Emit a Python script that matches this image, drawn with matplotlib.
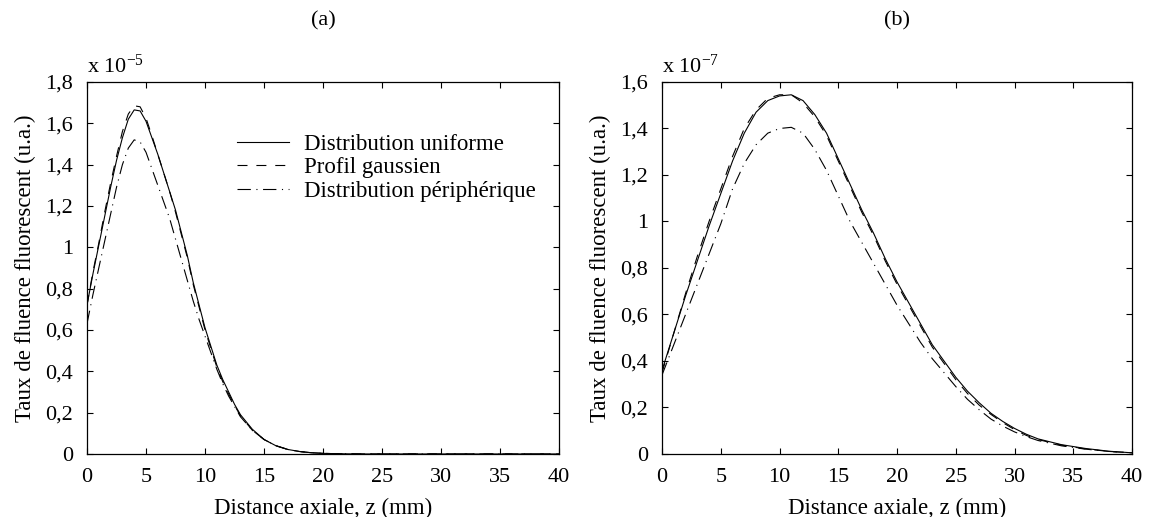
import matplotlib
matplotlib.use('Agg')
import matplotlib.pyplot as plt
from matplotlib.ticker import FuncFormatter, MultipleLocator

plt.rcParams['font.family'] = ['Liberation Serif', 'DejaVu Serif']
plt.rcParams['mathtext.default'] = 'regular'

labels = ['Distribution uniforme', 'Profil gaussien', 'Distribution périphérique']

# (a) values in units of 1e-5
z_a = [0, 0.5, 1, 1.5, 2, 2.5, 3, 3.5, 4, 4.5, 5, 5.5, 6, 6.5, 7, 7.5, 8, 8.5, 9, 9.5,
       10, 10.5, 11, 11.5, 12, 12.5, 13, 14, 15, 16, 17, 18, 19, 20, 21, 23, 40]
uniform_a = [0.72, 0.87, 1.01, 1.15, 1.29, 1.42, 1.53, 1.62, 1.665, 1.66, 1.61, 1.53, 1.45,
             1.36, 1.27, 1.18, 1.07, 0.96, 0.83, 0.72, 0.61, 0.52, 0.43, 0.36, 0.30, 0.24,
             0.19, 0.12, 0.07, 0.04, 0.022, 0.012, 0.006, 0.003, 0.0015, 0, 0]
gauss_a = [0.72, 0.88, 1.02, 1.17, 1.31, 1.44, 1.56, 1.645, 1.685, 1.68, 1.625, 1.54, 1.45,
           1.36, 1.27, 1.17, 1.06, 0.95, 0.82, 0.71, 0.60, 0.51, 0.42, 0.35, 0.29, 0.235,
           0.185, 0.115, 0.07, 0.04, 0.022, 0.012, 0.006, 0.003, 0.0015, 0, 0]
periph_a = [0.63, 0.77, 0.90, 1.03, 1.16, 1.29, 1.40, 1.48, 1.52, 1.51, 1.46, 1.38, 1.30,
            1.22, 1.14, 1.04, 0.94, 0.84, 0.74, 0.65, 0.57, 0.49, 0.41, 0.34, 0.28, 0.23,
            0.18, 0.115, 0.07, 0.04, 0.022, 0.012, 0.006, 0.003, 0.0015, 0, 0]

# (b) values in units of 1e-7
z_b = [0, 1, 2, 3, 4, 5, 6, 7, 8, 9, 10, 11, 12, 13, 14, 15, 16, 17, 18, 19, 20,
       21, 22, 23, 24, 25, 26, 27, 28, 29, 30, 31, 32, 34, 36, 38, 40]
uniform_b = [0.36, 0.52, 0.68, 0.83, 0.98, 1.12, 1.26, 1.38, 1.47, 1.52, 1.54, 1.545, 1.52,
             1.46, 1.38, 1.27, 1.16, 1.05, 0.95, 0.84, 0.74, 0.65, 0.56, 0.47, 0.40, 0.33,
             0.27, 0.22, 0.175, 0.14, 0.11, 0.085, 0.065, 0.04, 0.024, 0.012, 0.005]
gauss_b = [0.35, 0.52, 0.69, 0.85, 1.00, 1.14, 1.28, 1.40, 1.48, 1.53, 1.545, 1.545, 1.51,
           1.45, 1.37, 1.26, 1.15, 1.04, 0.94, 0.83, 0.73, 0.64, 0.55, 0.46, 0.39, 0.32,
           0.26, 0.21, 0.17, 0.135, 0.105, 0.08, 0.062, 0.038, 0.022, 0.011, 0.005]
periph_b = [0.34, 0.47, 0.60, 0.73, 0.86, 0.99, 1.14, 1.25, 1.33, 1.38, 1.40, 1.405, 1.38,
            1.31, 1.22, 1.11, 1.00, 0.91, 0.82, 0.73, 0.64, 0.56, 0.48, 0.41, 0.35, 0.29,
            0.235, 0.19, 0.15, 0.12, 0.095, 0.075, 0.058, 0.035, 0.021, 0.011, 0.005]

styles = [dict(ls='-'), dict(ls=(0, (9, 8))), dict(ls=(0, (12, 5, 1, 5)))]


def comma(v, pos):
    return ('%g' % round(v, 3)).replace('.', ',')


fig = plt.figure(figsize=(11.49, 5.17), dpi=100)
ax_a = fig.add_axes([0.0757, 0.1219, 0.411, 0.7195])
ax_b = fig.add_axes([0.5762, 0.1219, 0.409, 0.7195])

panels = [
    (ax_a, z_a, [uniform_a, gauss_a, periph_a], 1.8, '(a)', 'x 10$^{-5}$'),
    (ax_b, z_b, [uniform_b, gauss_b, periph_b], 1.6, '(b)', 'x 10$^{-7}$'),
]

for ax, z, series, ymax, title, mult in panels:
    for vals, lab, st in zip(series, labels, styles):
        ax.plot(z, vals, color='black', lw=0.8, label=lab, **st)
    ax.set_xlim(0, 40)
    ax.set_ylim(0, ymax)
    ax.xaxis.set_major_locator(MultipleLocator(5))
    ax.yaxis.set_major_locator(MultipleLocator(0.2))
    ax.yaxis.set_major_formatter(FuncFormatter(comma))
    ax.tick_params(direction='in', top=True, right=True, labelsize=16, length=4, width=0.8, pad=10)
    for sp in ax.spines.values():
        sp.set_linewidth(0.9)
    ax.set_xlabel('Distance axiale, z (mm)', fontsize=16.5, labelpad=8)
    ax.set_ylabel('Taux de fluence fluorescent (u.a.)', fontsize=16.5, labelpad=7)
    ax.set_title(title, fontsize=16, pad=41)
    ax.text(0.0, 1.01, mult, transform=ax.transAxes, fontsize=16, ha='left', va='bottom')

ax_a.legend(loc='upper right', bbox_to_anchor=(0.97, 0.885), frameon=False, fontsize=16.5,
            handlelength=2.3, handletextpad=0.65, labelspacing=0.1, borderaxespad=0)

fig.savefig('out.png', dpi=100)
